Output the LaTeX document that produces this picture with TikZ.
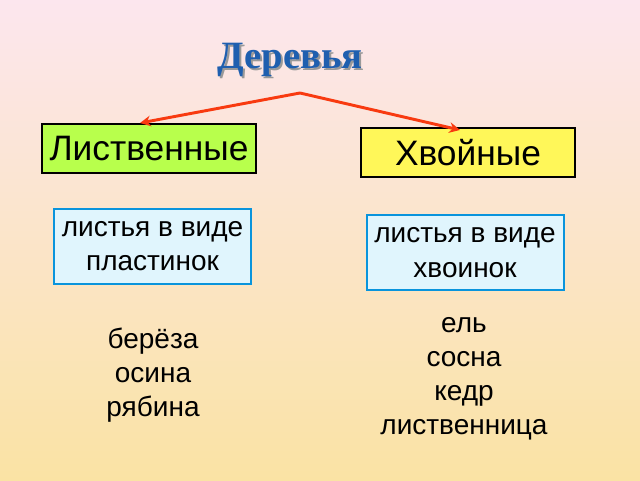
\documentclass[tikz,border=0pt]{standalone}
\usepackage{fontspec}
\setmainfont{Liberation Sans}
\newfontfamily\titlefont{Liberation Serif}
\usetikzlibrary{arrows.meta}
\definecolor{bgtop}{HTML}{FCE6EE}
\definecolor{bgbot}{HTML}{FAE3A4}
\definecolor{arr}{HTML}{F83A10}
\definecolor{ttl}{HTML}{1F5FAF}
\tikzset{
  catbox/.style={draw=black,line width=1.5pt,minimum width=160.5pt,minimum height=36.75pt,inner sep=0pt,font=\fontsize{26.5}{30}\selectfont},
  descbox/.style={draw=cyan!80!blue,line width=1.5pt,fill=cyan!12,minimum width=147.75pt,minimum height=56.25pt,inner sep=0pt,align=center,font=\fontsize{21}{26}\selectfont},
  listtxt/.style={align=center,font=\fontsize{21}{25.5}\selectfont},
  conn/.style={draw=arr,line width=2.2pt,-{Stealth[length=8pt,width=8pt]}},
  ttlstyle/.style={font=\titlefont\bfseries\fontsize{29}{32}\selectfont}
}
\begin{document}
\begin{tikzpicture}[x=0.75pt,y=-0.75pt]
\shade[top color=bgtop,bottom color=bgbot] (0,0) rectangle (640,480);
\useasboundingbox (0,0) rectangle (640,480);
\node[ttlstyle,text=black!40] at (292,62) {Деревья};
\node[ttlstyle,text=ttl] (title) at (290,60) {Деревья};
\coordinate (split) at (300,93);
\node[catbox,fill=green!40!yellow!70] (lis) at (149,148.5) {Лиственные};
\node[catbox,fill=yellow!65] (hv) at (468,152.5) {Хвойные};
\node[descbox] (d1) at (152.5,246) {листья в виде\\пластинок};
\node[descbox] (d2) at (465,252.5) {листья в виде\\хвоинок};
\node[listtxt] (l1) at (153,375) {берёза\\осина\\рябина};
\node[listtxt] (l2) at (464,378.5) {ель\\сосна\\кедр\\лиственница};
\draw[conn] (split) -- (lis.north -| 140,0);
\draw[conn] (split) -- (460,130);
\end{tikzpicture}
\end{document}
